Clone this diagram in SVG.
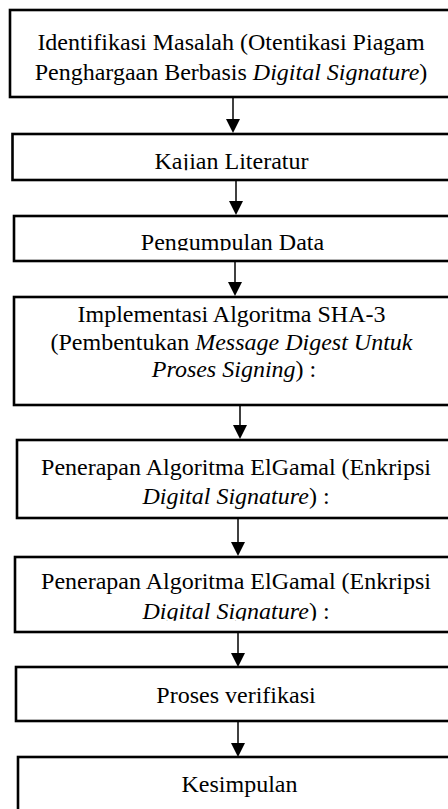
<svg xmlns="http://www.w3.org/2000/svg" width="448" height="809" viewBox="0 0 448 809">
<style>
.box{fill:#fff;stroke:#000;stroke-width:2.6}
.t{font-family:"Liberation Serif","Times New Roman",serif;font-size:24px;fill:#000;text-anchor:middle}
.i{font-style:italic}
.con{stroke:#000;stroke-width:1.5;fill:none}
.ah{fill:#000}
</style>
<defs>
<clipPath id="c2"><rect x="0" y="130" width="448" height="40.3"/></clipPath>
<clipPath id="c3"><rect x="0" y="212" width="448" height="38.6"/></clipPath>
<clipPath id="c6"><rect x="0" y="553" width="448" height="67.8"/></clipPath>
</defs>
<rect width="448" height="809" fill="#fff"/>
<g id="n1">
<rect class="box" x="10" y="10" width="470" height="87"/>
<text class="t" x="231" y="49.5">Identifikasi Masalah (Otentikasi Piagam</text>
<text class="t" x="231" y="80">Penghargaan Berbasis <tspan class="i">Digital Signature</tspan>)</text>
</g>
<g id="n2">
<rect class="box" x="12.5" y="134" width="470" height="46"/>
<text class="t" x="231.5" y="169" clip-path="url(#c2)">Kajian Literatur</text>
</g>
<g id="n3">
<rect class="box" x="14" y="216" width="470" height="45"/>
<text class="t" x="232.5" y="249.5" clip-path="url(#c3)">Pengumpulan Data</text>
</g>
<g id="n4">
<rect class="box" x="14" y="297" width="470" height="108"/>
<text class="t" x="231.5" y="322">Implementasi Algoritma SHA-3</text>
<text class="t" x="231.5" y="349.5">(Pembentukan <tspan class="i">Message Digest Untuk</tspan></text>
<text class="t" x="234" y="377"><tspan class="i">Proses Signing</tspan>) :</text>
</g>
<g id="n5">
<rect class="box" x="17" y="440" width="470" height="78"/>
<text class="t" x="236" y="475">Penerapan Algoritma ElGamal (Enkripsi</text>
<text class="t" x="236" y="503.5"><tspan class="i">Digital Signature</tspan>) :</text>
</g>
<g id="n6">
<rect class="box" x="15" y="557" width="470" height="75"/>
<text class="t" x="236" y="588.5">Penerapan Algoritma ElGamal (Enkripsi</text>
<text class="t" x="236" y="618.5" clip-path="url(#c6)"><tspan class="i">Digital Signature</tspan>) :</text>
</g>
<g id="n7">
<rect class="box" x="16" y="667" width="470" height="54"/>
<text class="t" x="236" y="703">Proses verifikasi</text>
</g>
<g id="n8">
<rect class="box" x="18" y="757" width="470" height="80"/>
<text class="t" x="239.5" y="791.5">Kesimpulan</text>
</g>
<g id="connectors">
<line class="con" x1="233" y1="98" x2="233" y2="120"/>
<path class="ah" d="M226 119 L240 119 L233 133 Z"/>
<line class="con" x1="236" y1="181" x2="236" y2="202"/>
<path class="ah" d="M229 201 L243 201 L236 215 Z"/>
<line class="con" x1="235" y1="262" x2="235" y2="283"/>
<path class="ah" d="M228 282 L242 282 L235 296 Z"/>
<line class="con" x1="240" y1="406" x2="240" y2="426"/>
<path class="ah" d="M233 425 L247 425 L240 439 Z"/>
<line class="con" x1="238" y1="519" x2="238" y2="543"/>
<path class="ah" d="M231 542 L245 542 L238 556 Z"/>
<line class="con" x1="238" y1="633" x2="238" y2="654"/>
<path class="ah" d="M231 653 L245 653 L238 667 Z"/>
<line class="con" x1="238" y1="722" x2="238" y2="744"/>
<path class="ah" d="M231 743 L245 743 L238 757 Z"/>
</g>
</svg>
